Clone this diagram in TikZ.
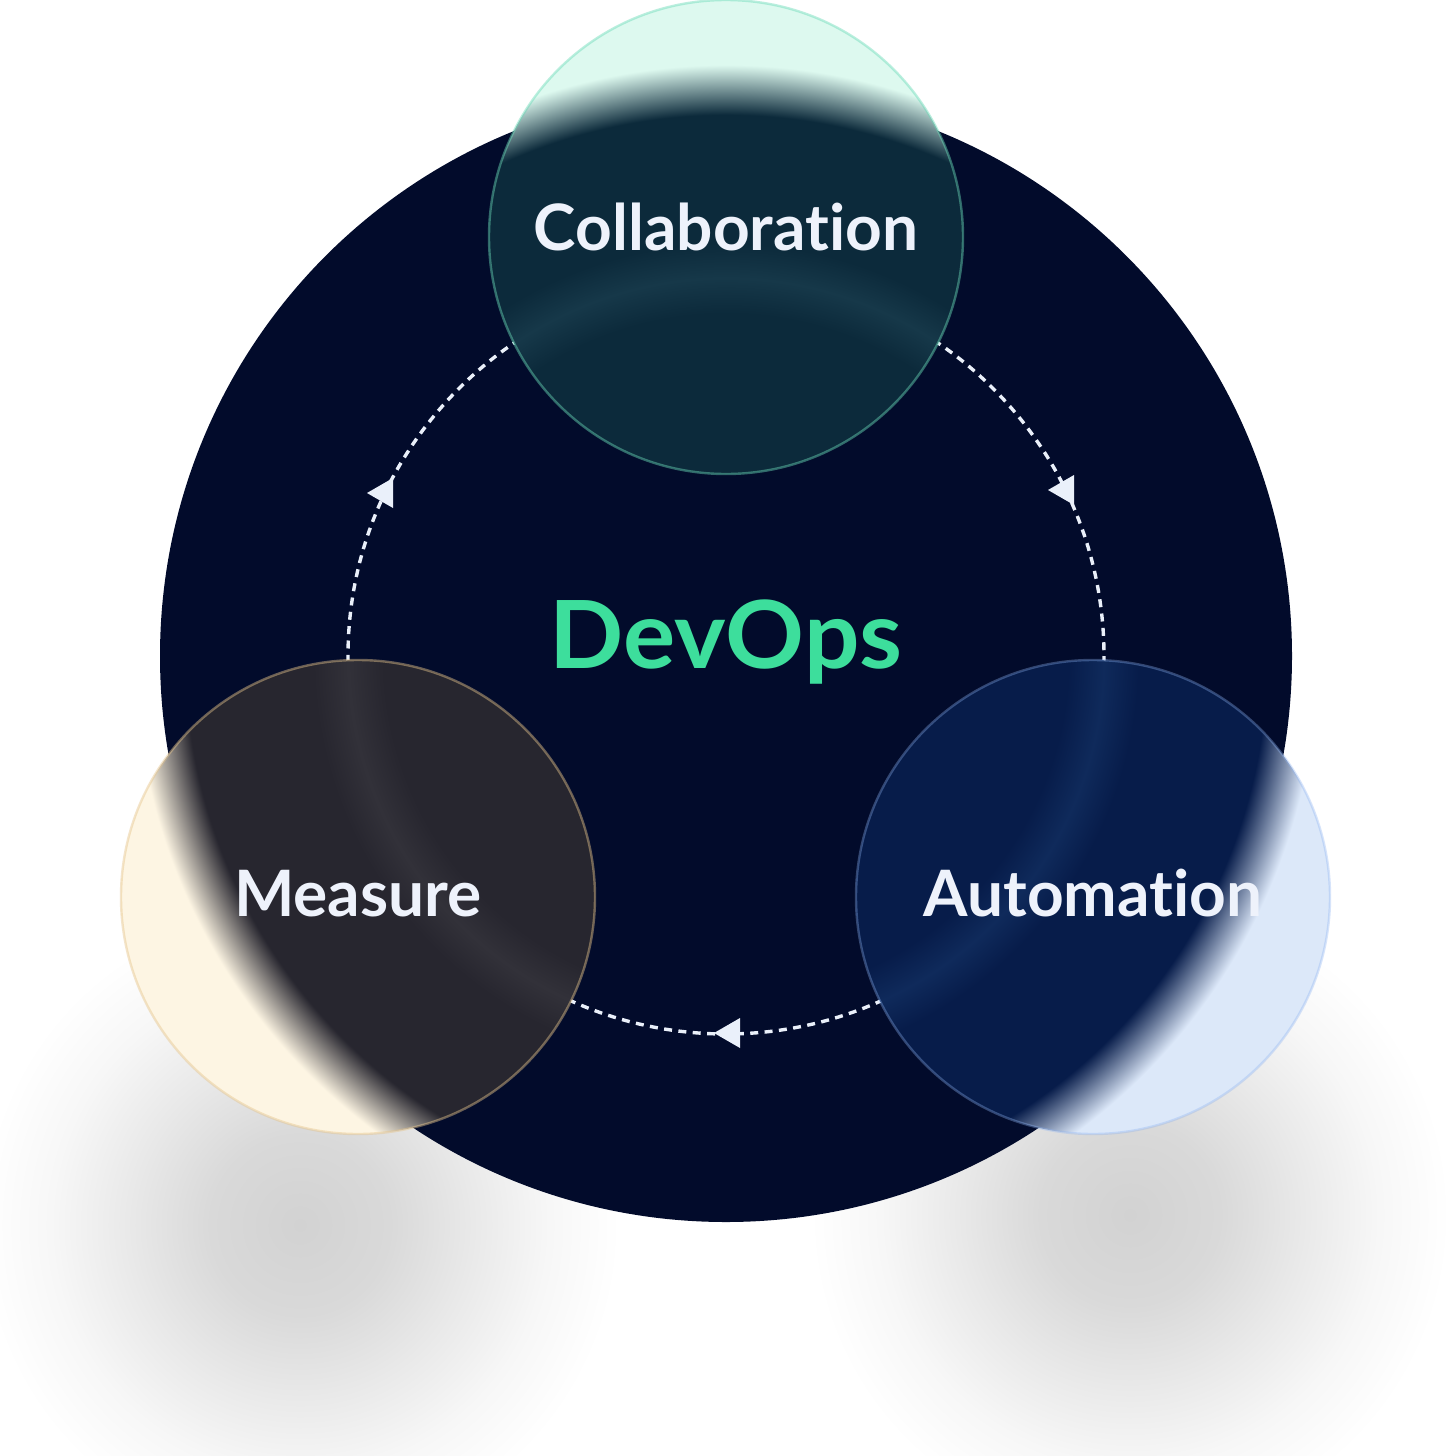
\documentclass[tikz,border=0pt]{standalone}
\usepackage{fontspec}
\setmainfont{Lato}[Ligatures=NoCommon]
\definecolor{bg}{HTML}{020B2B}
\definecolor{collD}{HTML}{0C2A3B}
\definecolor{collB}{HTML}{163849}
\definecolor{collL}{HTML}{DDF9EF}
\definecolor{collR}{HTML}{6ADBB8}
\definecolor{measD}{HTML}{27262F}
\definecolor{measB}{HTML}{323139}
\definecolor{measL}{HTML}{FDF5E3}
\definecolor{measR}{HTML}{E6C58C}
\definecolor{autoD}{HTML}{071C4A}
\definecolor{autoB}{HTML}{0F2A5B}
\definecolor{autoL}{HTML}{DCE8F9}
\definecolor{autoR}{HTML}{8DB3F2}
\definecolor{dashc}{HTML}{EAF0FA}
\definecolor{labwhite}{HTML}{EEF2FB}
\definecolor{devgreen}{HTML}{3DDE9C}
\definecolor{sh0}{HTML}{D2D2D2}
\definecolor{sh1}{HTML}{D9D9D9}
\definecolor{sh2}{HTML}{E9E9E9}
\definecolor{sh3}{HTML}{F7F7F7}
% path bounding box maps to radius 25bp; glass shading radius 800px = 25bp (px/32)
\pgfdeclareradialshading{collshade}{\pgfpointorigin}{color(0bp)=(collD); color(10.7bp)=(collD); color(11.81bp)=(collB); color(12.9bp)=(collD); color(16.91bp)=(collD); color(18.47bp)=(collL); color(50bp)=(collL)}
\pgfdeclareradialshading{measshade}{\pgfpointorigin}{color(0bp)=(measD); color(10.7bp)=(measD); color(11.81bp)=(measB); color(12.9bp)=(measD); color(16.91bp)=(measD); color(18.47bp)=(measL); color(50bp)=(measL)}
\pgfdeclareradialshading{autoshade}{\pgfpointorigin}{color(0bp)=(autoD); color(10.7bp)=(autoD); color(11.81bp)=(autoB); color(12.9bp)=(autoD); color(16.91bp)=(autoD); color(18.47bp)=(autoL); color(50bp)=(autoL)}
\pgfdeclareradialshading{shadowshade}{\pgfpointorigin}{color(0bp)=(sh0); color(7bp)=(sh1); color(13.5bp)=(sh2); color(19.5bp)=(sh3); color(25bp)=(white); color(50bp)=(white)}
\begin{document}
\begin{tikzpicture}[x=0.5pt,y=-0.5pt,
  lbl/.style={font=\fontsize{32}{32}\selectfont\bfseries, text=labwhite, inner sep=0pt, anchor=base},
  glassrim/.style={circle, minimum size=237pt, inner sep=0pt, line width=1.2pt, draw opacity=0.45},
  dashring/.style={draw=dashc, line width=1.7pt, dash pattern=on 4pt off 3.2pt},
  arrowtri/.style={fill=dashc}]
\useasboundingbox (0,0) rectangle (1452,1456);
\fill[white] (0,0) rectangle (1452,1456);
% soft shadows
\path[shading=shadowshade] (300,1225) circle (320);
\path[shading=shadowshade] (1130,1215) circle (320);
% main disc and cycle ring
\fill[bg] (726,656) circle (566);
\coordinate (ringc) at (726,656);
\draw[dashring] (ringc) circle (378);
% arrowheads on the ring
\coordinate (tipL) at (367,493);
\coordinate (tipR) at (1048,490);
\coordinate (tipB) at (714,1033);
\fill[arrowtri] (tipL) -- ++(26,-15) -- ++(0,30) -- cycle;
\fill[arrowtri] (tipR) -- ++(26,-15) -- ++(0,30) -- cycle;
\fill[arrowtri] (tipB) -- ++(26,-15) -- ++(0,30) -- cycle;
% glass circles
\begin{scope}
  \clip (726,237) circle (237);
  \path[shading=collshade] (ringc) circle (800);
\end{scope}
\begin{scope}
  \clip (358,897) circle (237);
  \path[shading=measshade] (ringc) circle (800);
\end{scope}
\begin{scope}
  \clip (1093,897) circle (237);
  \path[shading=autoshade] (ringc) circle (800);
\end{scope}
\node[glassrim, draw=collR] (collab) at (726,237) {};
\node[glassrim, draw=measR] (meas) at (358,897) {};
\node[glassrim, draw=autoR, draw opacity=0.35] (auto) at (1093,897) {};
% labels
\node[lbl] (lcollab) at (726,250) {Collaboration};
\node[lbl] (lmeas) at (358,916) {Measure};
\node[lbl] (lauto) at (1093,916) {Automation};
\node[font=\fontsize{47}{47}\selectfont\bfseries, text=devgreen, inner sep=0pt, anchor=base] (devops) at (726,668) {\scalebox{1.04}[1]{DevOps}};
\end{tikzpicture}
\end{document}
